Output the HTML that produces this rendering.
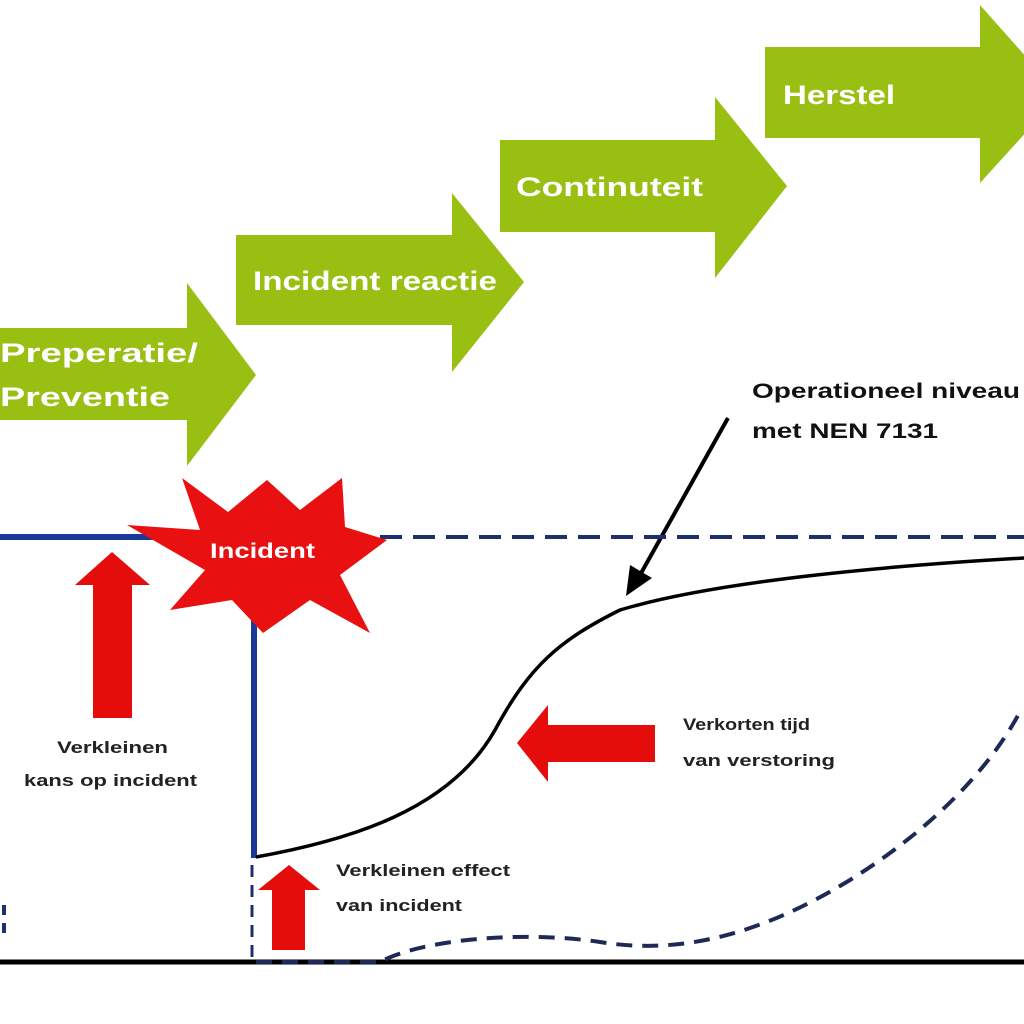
<!DOCTYPE html>
<html><head><meta charset="utf-8"><style>
html,body{margin:0;padding:0;background:#fff;}
svg{display:block;}
text{font-family:"Liberation Sans",Arial,sans-serif;font-weight:bold;}
</style></head><body>
<svg width="1024" height="1024" viewBox="0 0 1024 1024" xmlns="http://www.w3.org/2000/svg">
<rect width="1024" height="1024" fill="#fff"/>
<g fill="#98bf12">
<polygon points="0,328 187,328 187,283 256,375 187,466 187,420 0,420"/>
<polygon points="236,235 452,235 452,193 524,282 452,372 452,325 236,325"/>
<polygon points="500,140 715,140 715,97 787,186 715,278 715,232 500,232"/>
<polygon points="765,47 980,47 980,5 1060,95 980,183 980,138 765,138"/>
</g>
<g fill="#fff" font-size="27" lengthAdjust="spacingAndGlyphs">
<text x="0" y="362" textLength="198" lengthAdjust="spacingAndGlyphs">Preperatie/</text>
<text x="0" y="406" textLength="170" lengthAdjust="spacingAndGlyphs">Preventie</text>
<text x="253" y="290" textLength="244" lengthAdjust="spacingAndGlyphs">Incident reactie</text>
<text x="516" y="196" textLength="187" lengthAdjust="spacingAndGlyphs">Continuteit</text>
<text x="783" y="104" textLength="112" lengthAdjust="spacingAndGlyphs">Herstel</text>
</g>
<text x="752" y="398" font-size="21" fill="#111" textLength="268" lengthAdjust="spacingAndGlyphs">Operationeel niveau</text>
<text x="752" y="438" font-size="21" fill="#111" textLength="186" lengthAdjust="spacingAndGlyphs">met NEN 7131</text>
<line x1="728" y1="418" x2="640" y2="575" stroke="#000" stroke-width="4"/>
<polygon points="626,596 630,565 652,578" fill="#000"/>
<line x1="0" y1="537" x2="160" y2="537" stroke="#1a3a9a" stroke-width="6"/>
<line x1="380" y1="537" x2="1024" y2="537" stroke="#1e2f6e" stroke-width="4" stroke-dasharray="22,11"/>
<line x1="254" y1="600" x2="254" y2="858" stroke="#1a3a9a" stroke-width="6"/>
<line x1="252" y1="865" x2="252" y2="960" stroke="#1e2f6e" stroke-width="3" stroke-dasharray="12,8"/>
<line x1="4" y1="905" x2="4" y2="935" stroke="#1e2f6e" stroke-width="4" stroke-dasharray="10,8"/>
<polygon fill="#e81010" points="127,525 200,530 182,478 228,512 267,480 300,510 342,478 345,527 387,540 340,575 370,633 310,600 263,633 232,600 170,610 205,570"/>
<text x="210" y="558" font-size="21" fill="#fff" textLength="105" lengthAdjust="spacingAndGlyphs">Incident</text>
<line x1="0" y1="962" x2="1024" y2="962" stroke="#000" stroke-width="5"/>
<path d="M256,857 C350,840 450,810 495,730 C530,665 560,640 620,610 C720,580 900,565 1024,558" fill="none" stroke="#000" stroke-width="3.5"/>
<path d="M256,962 L380,962 C420,940 520,930 600,942 C680,955 760,935 850,880 C930,830 990,770 1022,708" fill="none" stroke="#1e2a55" stroke-width="4" stroke-dasharray="16,10"/>
<g fill="#e50c0c">
<polygon points="93,718 132,718 132,585 150,585 112,552 75,585 93,585"/>
<polygon points="272,950 305,950 305,890 320,890 289,865 258,890 272,890"/>
<polygon points="517,743 548,705 548,725 655,725 655,762 548,762 548,782"/>
</g>
<g fill="#222" font-size="17">
<text x="57" y="753" textLength="111" lengthAdjust="spacingAndGlyphs">Verkleinen</text>
<text x="24" y="786" textLength="173" lengthAdjust="spacingAndGlyphs">kans op incident</text>
<text x="683" y="730" textLength="127" lengthAdjust="spacingAndGlyphs">Verkorten tijd</text>
<text x="683" y="766" textLength="152" lengthAdjust="spacingAndGlyphs">van verstoring</text>
<text x="336" y="876" textLength="174" lengthAdjust="spacingAndGlyphs">Verkleinen effect</text>
<text x="336" y="911" textLength="126" lengthAdjust="spacingAndGlyphs">van incident</text>
</g>
</svg>
</body></html>
